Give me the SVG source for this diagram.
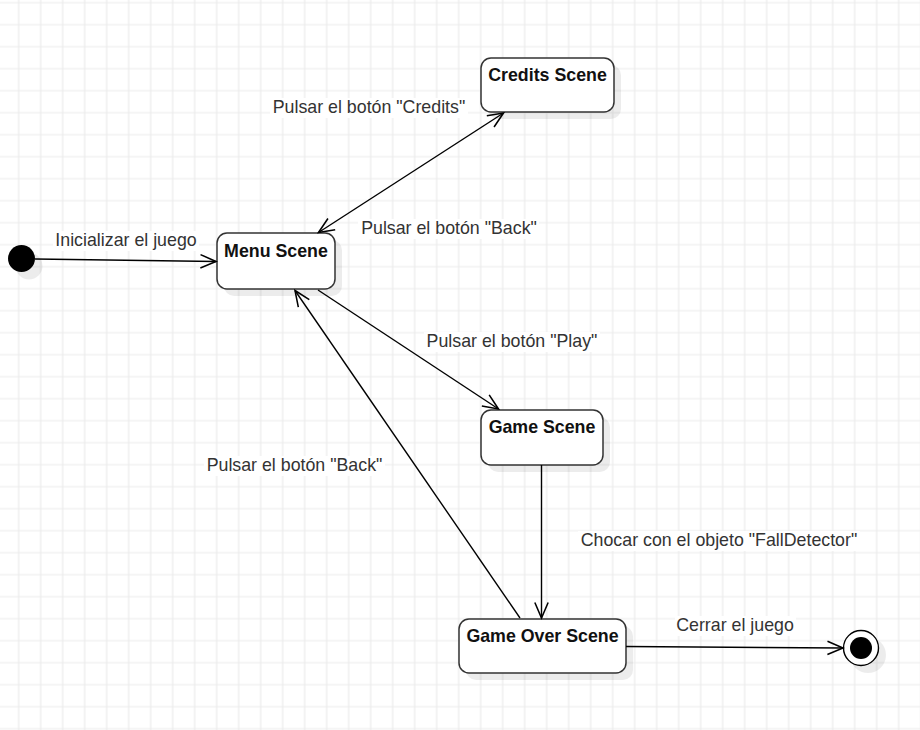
<svg xmlns="http://www.w3.org/2000/svg" width="920" height="730" viewBox="0 0 920 730">
<defs>
<pattern id="grid" patternUnits="userSpaceOnUse" x="7.7" y="-8.3" width="22" height="22">
<path d="M11,0 V22 M0,11 H22" stroke="#ebebeb" stroke-width="1.2" fill="none"/>
</pattern>
<marker id="open" markerUnits="userSpaceOnUse" markerWidth="20" markerHeight="20" viewBox="-16 -8 18 16" refX="0" refY="0" orient="auto-start-reverse">
<path d="M-14,-6 L0,0 L-14,6" fill="none" stroke="#000" stroke-width="1.4"/>
</marker>
</defs>
<style>
.state rect.box{fill:#fff;stroke:#333;stroke-width:1.5}
.shadow{fill:#000;fill-opacity:0.075}
.title{font-family:"Liberation Sans",Arial,sans-serif;font-size:17.8px;font-weight:bold;fill:#111;text-anchor:middle}
.lbl{font-family:"Liberation Sans",Arial,sans-serif;font-size:17.8px;fill:#333;text-anchor:middle}
.lblbg{fill:#fff}
.edge{fill:none;stroke:#000;stroke-width:1.4}
</style>
<rect width="920" height="730" fill="#fff"/>
<rect width="920" height="730" fill="url(#grid)"/>

<g id="start">
<circle class="shadow" cx="29" cy="266" r="13.5"/>
<circle cx="21.5" cy="258.5" r="13.5" fill="#000"/>
</g>

<g id="menu-scene" class="state">
<rect class="shadow" x="224" y="240" width="118" height="56" rx="10"/>
<rect class="box" x="217" y="233" width="118" height="56" rx="10"/>
<text class="title" x="276" y="257">Menu Scene</text>
</g>

<g id="credits-scene" class="state">
<rect class="shadow" x="488" y="65" width="133" height="54" rx="10"/>
<rect class="box" x="481" y="58" width="133" height="54" rx="10"/>
<text class="title" x="547.5" y="81">Credits Scene</text>
</g>

<g id="game-scene" class="state">
<rect class="shadow" x="488" y="417" width="122" height="55" rx="10"/>
<rect class="box" x="481" y="410" width="122" height="55" rx="10"/>
<text class="title" x="542" y="433">Game Scene</text>
</g>

<g id="game-over-scene" class="state">
<rect class="shadow" x="466" y="626" width="167" height="54" rx="10"/>
<rect class="box" x="459" y="619" width="167" height="54" rx="10"/>
<text class="title" x="542.5" y="642">Game Over Scene</text>
</g>

<g id="end">
<circle class="shadow" cx="868" cy="655" r="18"/>
<circle cx="861" cy="648" r="17.5" fill="#fff" stroke="#000" stroke-width="1.4"/>
<circle cx="861" cy="648" r="11" fill="#000"/>
</g>

<g id="connectors">
<path class="edge" d="M35,259 L216,261.5" marker-end="url(#open)"/>
<path class="edge" d="M318.5,232.5 L503.5,113" marker-start="url(#open)" marker-end="url(#open)"/>
<path class="edge" d="M318,290 L498.5,409" marker-end="url(#open)"/>
<path class="edge" d="M520,618 L295,290.5" marker-end="url(#open)"/>
<path class="edge" d="M541.5,465 L541.5,618" marker-end="url(#open)"/>
<path class="edge" d="M626,646.5 L843,648" marker-end="url(#open)"/>

<rect class="lblbg" x="53" y="231" width="146" height="20"/>
<text class="lbl" x="126" y="246">Inicializar el juego</text>
<rect class="lblbg" x="270" y="98" width="198" height="20"/>
<text class="lbl" x="369" y="113">Pulsar el botón "Credits"</text>
<rect class="lblbg" x="358" y="219" width="181" height="20"/>
<text class="lbl" x="449" y="234">Pulsar el botón "Back"</text>
<rect class="lblbg" x="424" y="332" width="176" height="20"/>
<text class="lbl" x="512" y="347">Pulsar el botón "Play"</text>
<rect class="lblbg" x="204" y="456" width="181" height="20"/>
<text class="lbl" x="294.5" y="471">Pulsar el botón "Back"</text>
<rect class="lblbg" x="578" y="531" width="282" height="20"/>
<text class="lbl" x="719" y="546">Chocar con el objeto "FallDetector"</text>
<rect class="lblbg" x="675" y="616" width="121" height="20"/>
<text class="lbl" x="735" y="631">Cerrar el juego</text>
</g>
</svg>
